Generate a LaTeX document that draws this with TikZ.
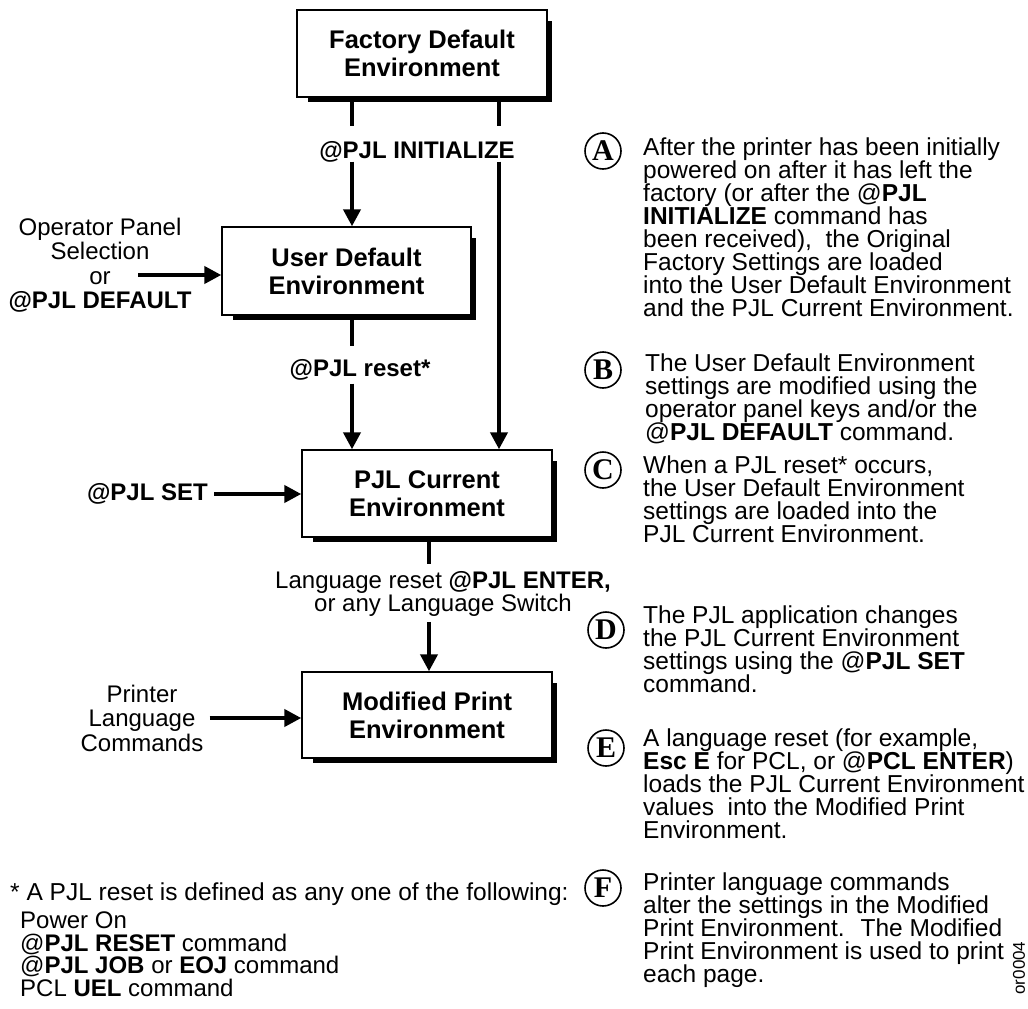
\documentclass[tikz,border=0pt]{standalone}
\usepackage{fontspec}
\setmainfont{Liberation Sans}
\newfontfamily\letterfont{Liberation Serif}
\usetikzlibrary{arrows.meta,positioning,calc}

\tikzset{
  envbox/.style={draw,line width=1.4pt,minimum width=250pt,minimum height=87pt,align=center,font=\fontsize{25.5}{28}\selectfont\bfseries},
  shadeline/.style={line width=4pt},
  flowline/.style={line width=4pt},
  flowarrow/.style={line width=4pt,-{Triangle[length=17pt,width=17pt]}},
  lbl/.style={font=\fontsize{24}{24.5}\selectfont,align=center,inner sep=0pt},
  boldlbl/.style={lbl,font=\fontsize{24}{24.5}\selectfont\bfseries},
  notetext/.style={font=\fontsize{24.5}{23}\selectfont,align=left,anchor=north west,inner sep=0pt},
  badge/.style={circle,draw,line width=1.6pt,minimum size=36pt,inner sep=0pt,font=\fontsize{30}{30}\letterfont\bfseries},
}

\begin{document}
\begin{tikzpicture}[x=1pt,y=-1pt]
\useasboundingbox (0,0) rectangle (1028,1009);

% environments
\node[envbox] (fac) at (422,53.5) {Factory Default\\Environment};
\node[envbox,minimum width=249pt,minimum height=88pt] (usr) at (346.5,271) {User Default\\Environment};
\node[envbox] (cur) at (427,493.5) {PJL Current\\Environment};
\node[envbox,minimum height=86pt] (mod) at (427,715) {Modified Print\\Environment};
\foreach \b in {fac,usr,cur,mod}
  \draw[shadeline] ([xshift=12pt,yshift=-2pt]\b.south west) -| ([xshift=2pt,yshift=-12pt]\b.north east);

\coordinate (lx) at (352,0);
\coordinate (rx) at (499,0);
\coordinate (mx) at (429,0);

% labels on the flow
\node[boldlbl] (init) at (417,152) {@PJL INITIALIZE};
\node[boldlbl] (rst) at (360,370) {@PJL reset*};
\node[lbl,font=\fontsize{24}{22}\selectfont] (enter) at (443,594) {Language reset \textbf{@PJL ENTER,}\\or any Language Switch};

\draw[flowline] (fac.south -| lx) -- ($(init.north -| lx)+(0,-15)$);
\draw[flowline] (fac.south -| rx) -- ($(init.north -| rx)+(0,-15)$);
\draw[flowarrow] ($(init.south -| lx)+(0,-1)$) -- (usr.north -| lx);
\draw[flowarrow] ($(init.south -| rx)+(0,-1)$) -- (cur.north -| rx);
\draw[flowline] (usr.south -| lx) -- ($(rst.north -| lx)+(0,-13)$);
\draw[flowarrow] ($(rst.south -| lx)+(0,3)$) -- (cur.north -| lx);
\draw[flowline] (cur.south -| mx) -- ($(enter.north -| mx)+(0,-7)$);
\draw[flowarrow] ($(enter.south -| mx)+(0,5)$) -- (mod.north -| mx);

% inputs from the left
\node[lbl] (panel) at (100,265) {Operator Panel\\Selection\\or\\\textbf{@PJL DEFAULT}};
\coordinate (panelout) at (138,275);
\draw[flowarrow] (panelout) -- (usr.west |- panelout);
\node[boldlbl,anchor=east] (set) at (208,494) {@PJL SET};
\draw[flowarrow] ([xshift=6pt]set.east) -- (cur.west |- set.east);
\node[lbl] (lang) at (142,718) {Printer\\Language\\Commands};
\draw[flowarrow] ([xshift=6pt]lang.east) -- (mod.west |- lang.east);

% footnote
\node[notetext] (foot) at (10,883) {* A PJL reset is defined as any one of the following:};
\node[notetext,font=\fontsize{24}{22.5}\selectfont] (list) at (20,912) {Power On\\@\textbf{PJL RESET} command\\@\textbf{PJL JOB} or \textbf{EOJ} command\\PCL \textbf{UEL} command};

% notes A to F
\node[badge] (ba) at (603,151) {A};
\node[notetext] (ta) at (643,138) {After the printer has been initially\\powered on after it has left the\\factory (or after the @\textbf{PJL}\\\textbf{INITIALIZE} command has\\been received), \ the Original\\Factory Settings are loaded\\into the User Default Environment\\and the PJL Current Environment.};
\node[badge] (bb) at (603,370) {B};
\node[notetext] (tb) at (645,354) {The User Default Environment\\settings are modified using the\\operator panel keys and/or the\\@\textbf{PJL DEFAULT} command.};
\node[badge] (bc) at (603,470) {C};
\node[notetext] (tc) at (643,456) {When a PJL reset* occurs,\\the User Default Environment\\settings are loaded into the\\PJL Current Environment.};
\node[badge] (bd) at (606,630) {D};
\node[notetext] (td) at (643,606) {The PJL application changes\\the PJL Current Environment\\settings using the @\textbf{PJL SET}\\command.};
\node[badge] (be) at (606,748) {E};
\node[notetext] (te) at (643,729) {A language reset (for example,\\\textbf{Esc E} for PCL, or @\textbf{PCL ENTER})\\loads the PJL Current Environment\\values \ into the Modified Print\\Environment.};
\node[badge] (bf) at (603,888) {F};
\node[notetext] (tf) at (643,873) {Printer language commands\\alter the settings in the Modified\\Print Environment. \ The Modified\\Print Environment is used to print\\each page.};

\node[rotate=90,font=\fontsize{17}{17}\selectfont] (code) at (1019,968) {or0004};
\end{tikzpicture}
\end{document}
